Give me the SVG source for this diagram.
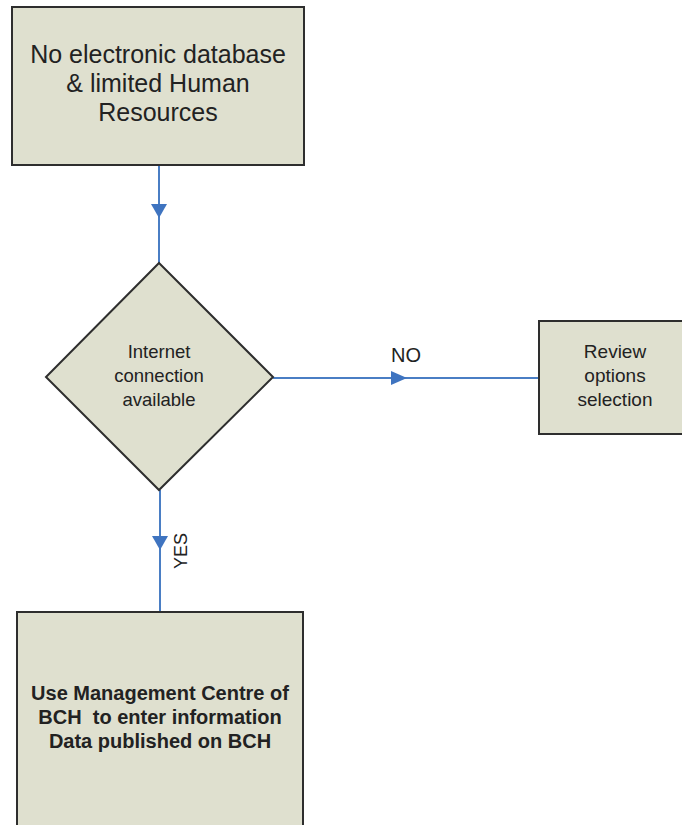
<svg xmlns="http://www.w3.org/2000/svg" width="682" height="825" viewBox="0 0 682 825">
  <style>
    .box { fill: #dfe0cf; stroke: #2e2e2e; stroke-width: 2; }
    .txt { font-family: "Liberation Sans", Arial, sans-serif; fill: #222; text-anchor: middle; }
    .edge { stroke: #4a7ec4; stroke-width: 2; fill: none; }
    .head { fill: #3f74c0; }
  </style>
  <rect width="682" height="825" fill="#ffffff"/>

  <g id="connectors">
    <line class="edge" x1="159" y1="165" x2="159" y2="266"/>
    <polygon class="head" points="151,204 167,204 159,218"/>
    <line class="edge" x1="273" y1="378" x2="539" y2="378"/>
    <polygon class="head" points="391,371 391,385 407,378"/>
    <line class="edge" x1="160" y1="490" x2="160" y2="612"/>
    <polygon class="head" points="152,536 168,536 160,550"/>
    <text class="txt" font-size="18" transform="translate(187,551) rotate(-90)">YES</text>
    <text class="txt" font-size="20" x="406" y="362">NO</text>
  </g>

  <g id="start">
    <rect class="box" x="12" y="7" width="292" height="158"/>
    <text class="txt" font-size="25" x="158" y="63">No electronic database</text>
    <text class="txt" font-size="25" x="158" y="92">&amp; limited Human</text>
    <text class="txt" font-size="25" x="158" y="121">Resources</text>
  </g>

  <g id="decision">
    <polygon class="box" stroke-width="1.5" points="159,263 273,377 159,490 46,377"/>
    <text class="txt" font-size="18.5" x="159" y="358">Internet</text>
    <text class="txt" font-size="18.5" x="159" y="382">connection</text>
    <text class="txt" font-size="18.5" x="159" y="406">available</text>
  </g>

  <g id="review">
    <rect class="box" x="539" y="321" width="150" height="113"/>
    <text class="txt" font-size="19" x="615" y="358">Review</text>
    <text class="txt" font-size="19" x="615" y="382">options</text>
    <text class="txt" font-size="19" x="615" y="406">selection</text>
  </g>

  <g id="publish">
    <rect class="box" x="17" y="612" width="286" height="230"/>
    <text class="txt" font-size="20" font-weight="bold" x="160" y="700">Use Management Centre of</text>
    <text class="txt" font-size="20" font-weight="bold" x="160" y="724" xml:space="preserve">BCH  to enter information</text>
    <text class="txt" font-size="20" font-weight="bold" x="160" y="748">Data published on BCH</text>
  </g>
</svg>
